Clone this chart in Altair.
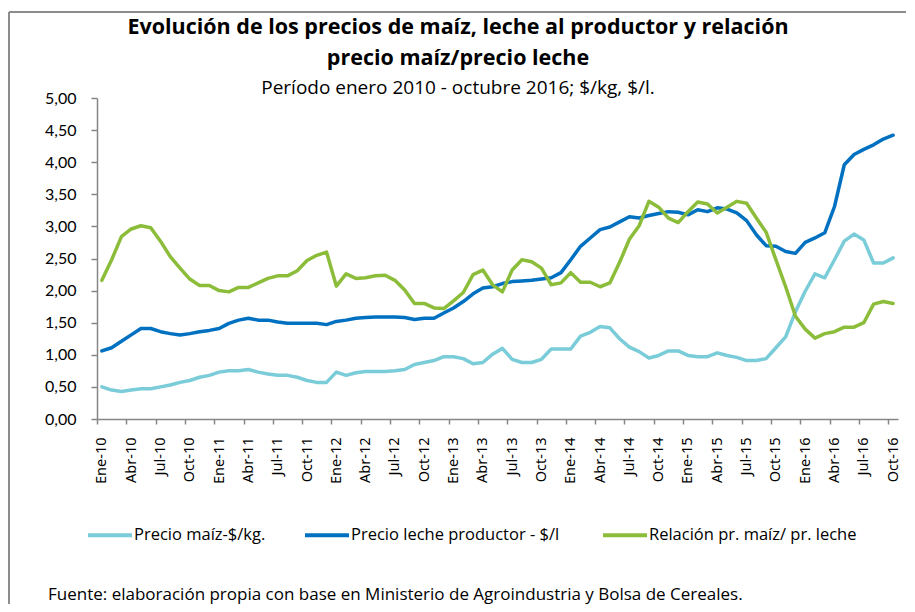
import altair as alt
import pandas as pd

month_names = ["Ene", "Feb", "Mar", "Abr", "May", "Jun", "Jul", "Ago", "Sep", "Oct", "Nov", "Dic"]
years = ["10", "11", "12", "13", "14", "15", "16"]
categories = [f"{m}-{y}" for y in years for m in month_names][:82]

maiz = [0.50, 0.45, 0.43, 0.45, 0.47, 0.47, 0.50, 0.53, 0.57, 0.60, 0.65, 0.68, 0.73, 0.75,
        0.75, 0.77, 0.73, 0.70, 0.68, 0.68, 0.65, 0.60, 0.57, 0.57, 0.73, 0.68, 0.72, 0.74,
        0.74, 0.74, 0.75, 0.77, 0.85, 0.88, 0.91, 0.97, 0.97, 0.94, 0.86, 0.88, 1.01, 1.10,
        0.93, 0.88, 0.88, 0.93, 1.09, 1.09, 1.09, 1.29, 1.35, 1.44, 1.42, 1.25, 1.12,
        1.05, 0.95, 0.99, 1.06, 1.06, 0.99, 0.97, 0.97, 1.03, 0.99, 0.96, 0.91, 0.91, 0.94,
        1.11, 1.28, 1.67, 1.99, 2.26, 2.20, 2.48, 2.77, 2.88, 2.79, 2.43, 2.43, 2.51]

leche = [1.06, 1.11, 1.21, 1.31, 1.41, 1.41, 1.36, 1.33, 1.31, 1.33, 1.36, 1.38, 1.41, 1.49,
         1.54, 1.57, 1.54, 1.54, 1.51, 1.49, 1.49, 1.49, 1.49, 1.47, 1.52, 1.54, 1.57, 1.58,
         1.59, 1.59, 1.59, 1.58, 1.55, 1.57, 1.57, 1.65, 1.73, 1.83, 1.95, 2.04, 2.06, 2.11,
         2.14, 2.15, 2.16, 2.18, 2.20, 2.28, 2.48, 2.69, 2.82, 2.95, 2.99, 3.07, 3.15,
         3.13, 3.17, 3.20, 3.23, 3.22, 3.18, 3.26, 3.23, 3.29, 3.27, 3.21, 3.09, 2.87, 2.70,
         2.69, 2.61, 2.58, 2.75, 2.82, 2.90, 3.31, 3.96, 4.12, 4.20, 4.27, 4.36, 4.42]

relacion = [2.16, 2.48, 2.84, 2.96, 3.01, 2.98, 2.77, 2.53, 2.35, 2.18, 2.08, 2.08, 2.00, 1.98,
            2.05, 2.05, 2.12, 2.19, 2.23, 2.23, 2.31, 2.47, 2.55, 2.60, 2.07, 2.26, 2.19, 2.20,
            2.23, 2.24, 2.16, 2.01, 1.80, 1.80, 1.73, 1.72, 1.84, 1.97, 2.25, 2.32, 2.09, 1.98,
            2.32, 2.48, 2.45, 2.35, 2.09, 2.12, 2.28, 2.13, 2.13, 2.06, 2.12, 2.44, 2.80,
            3.01, 3.39, 3.30, 3.13, 3.06, 3.23, 3.38, 3.35, 3.21, 3.30, 3.39, 3.36, 3.13, 2.91,
            2.48, 2.06, 1.60, 1.40, 1.26, 1.33, 1.36, 1.43, 1.43, 1.50, 1.79, 1.83, 1.80]

series_names = ["Precio maíz-$/kg.", "Precio leche productor  - $/l", "Relación pr. maíz/ pr. leche"]
series_colors = ["#7ACCD8", "#0070C0", "#8CBD3A"]
y_ticks = [0, 0.5, 1, 1.5, 2, 2.5, 3, 3.5, 4, 4.5, 5]

title_lines = ["Evolución de los precios de maíz, leche al productor y relación", "precio maíz/precio leche"]
subtitle = "Período enero 2010 - octubre 2016; $/kg, $/l."
footer = "Fuente: elaboración propia  con base en Ministerio de Agroindustria y Bolsa de Cereales."

rows = []
for name, vals in zip(series_names, [maiz, leche, relacion]):
    for i, (c, v) in enumerate(zip(categories, vals)):
        rows.append({"idx": i, "mes": c, "serie": name, "valor": v})
df = pd.DataFrame(rows)

W, H = 801, 321
step = W / len(categories)
label_arr = "[" + ",".join(f"'{c}'" for c in categories) + "]"

axis_gray = "#868686"

lines = alt.Chart(df).mark_line(strokeWidth=3.5, strokeJoin="round", strokeCap="round").encode(
    x=alt.X("idx:Q",
            scale=alt.Scale(domain=[-0.5, len(categories) - 0.5], nice=False, zero=False),
            axis=alt.Axis(values=list(range(0, len(categories), 3)),
                          labelExpr=label_arr + "[datum.value]",
                          labelAngle=270, labelAlign="right", labelBaseline="middle",
                          tickOffset=-step / 2, labelOffset=step / 2,
                          tickSize=5, labelPadding=13, grid=False, title=None,
                          domainColor=axis_gray, tickColor=axis_gray, domainWidth=1.5, tickWidth=1.5,
                          labelFont="Noto Sans", labelFontSize=14.5, labelColor="#000000")),
    y=alt.Y("valor:Q",
            scale=alt.Scale(domain=[0, 5], nice=False),
            axis=alt.Axis(values=y_ticks,
                          labelExpr="replace(format(datum.value, '.2f'), '.', ',')",
                          tickSize=6, labelPadding=15, grid=False, title=None,
                          domainColor=axis_gray, tickColor=axis_gray, domainWidth=1.5, tickWidth=1.5,
                          labelFont="Lato", labelFontSize=16, labelColor="#000000")),
    color=alt.Color("serie:N",
                    scale=alt.Scale(domain=series_names, range=series_colors),
                    sort=series_names,
                    legend=alt.Legend(orient="none", legendX=-11, legendY=413,
                                      direction="horizontal", title=None,
                                      symbolType="stroke", symbolSize=44 * 44,
                                      symbolStrokeWidth=4, labelOffset=0, labelLimit=400,
                                      columnPadding=31, labelFont="Open Sans", labelFontSize=16.5,
                                      labelColor="#000000", padding=0)),
    detail="serie:N",
)

title_df = pd.DataFrame({"t": title_lines})
title_mark = alt.Chart(title_df.iloc[[0]]).mark_text(
    align="center", baseline="middle", font="Open Sans", fontSize=21.5, fontWeight="bold", color="#000000"
).encode(x=alt.value(361), y=alt.value(-70), text="t:N")
title_mark2 = alt.Chart(title_df.iloc[[1]]).mark_text(
    align="center", baseline="middle", font="Open Sans", fontSize=21.5, fontWeight="bold", color="#000000"
).encode(x=alt.value(361), y=alt.value(-39), text="t:N")
sub_mark = alt.Chart(pd.DataFrame({"t": [subtitle]})).mark_text(
    align="center", baseline="middle", font="Open Sans", fontSize=19, color="#000000"
).encode(x=alt.value(361), y=alt.value(-10), text="t:N")

foot = alt.Chart(pd.DataFrame({"t": [footer]})).mark_text(
    align="left", baseline="middle", font="Open Sans", fontSize=17, color="#000000"
).encode(x=alt.value(-49), y=alt.value(497), text="t:N")

border_df = pd.DataFrame({"k": [0]})
border_top = alt.Chart(border_df).mark_rule(color="#8c8c8c", strokeWidth=2).encode(
    x=alt.value(-88), x2=alt.value(812), y=alt.value(-86))
border_left = alt.Chart(border_df).mark_rule(color="#8c8c8c", strokeWidth=2).encode(
    x=alt.value(-88), y=alt.value(-86), y2=alt.value(510))

chart = alt.layer(border_top, border_left, lines, title_mark, title_mark2, sub_mark, foot).properties(
    width=W, height=H,
    autosize=alt.AutoSizeParams(type="none"),
    padding={"left": 89, "top": 90, "right": 8, "bottom": 185},
).configure_view(stroke="transparent")

chart.save("out.html", embed_options={"renderer": "svg", "actions": False})
